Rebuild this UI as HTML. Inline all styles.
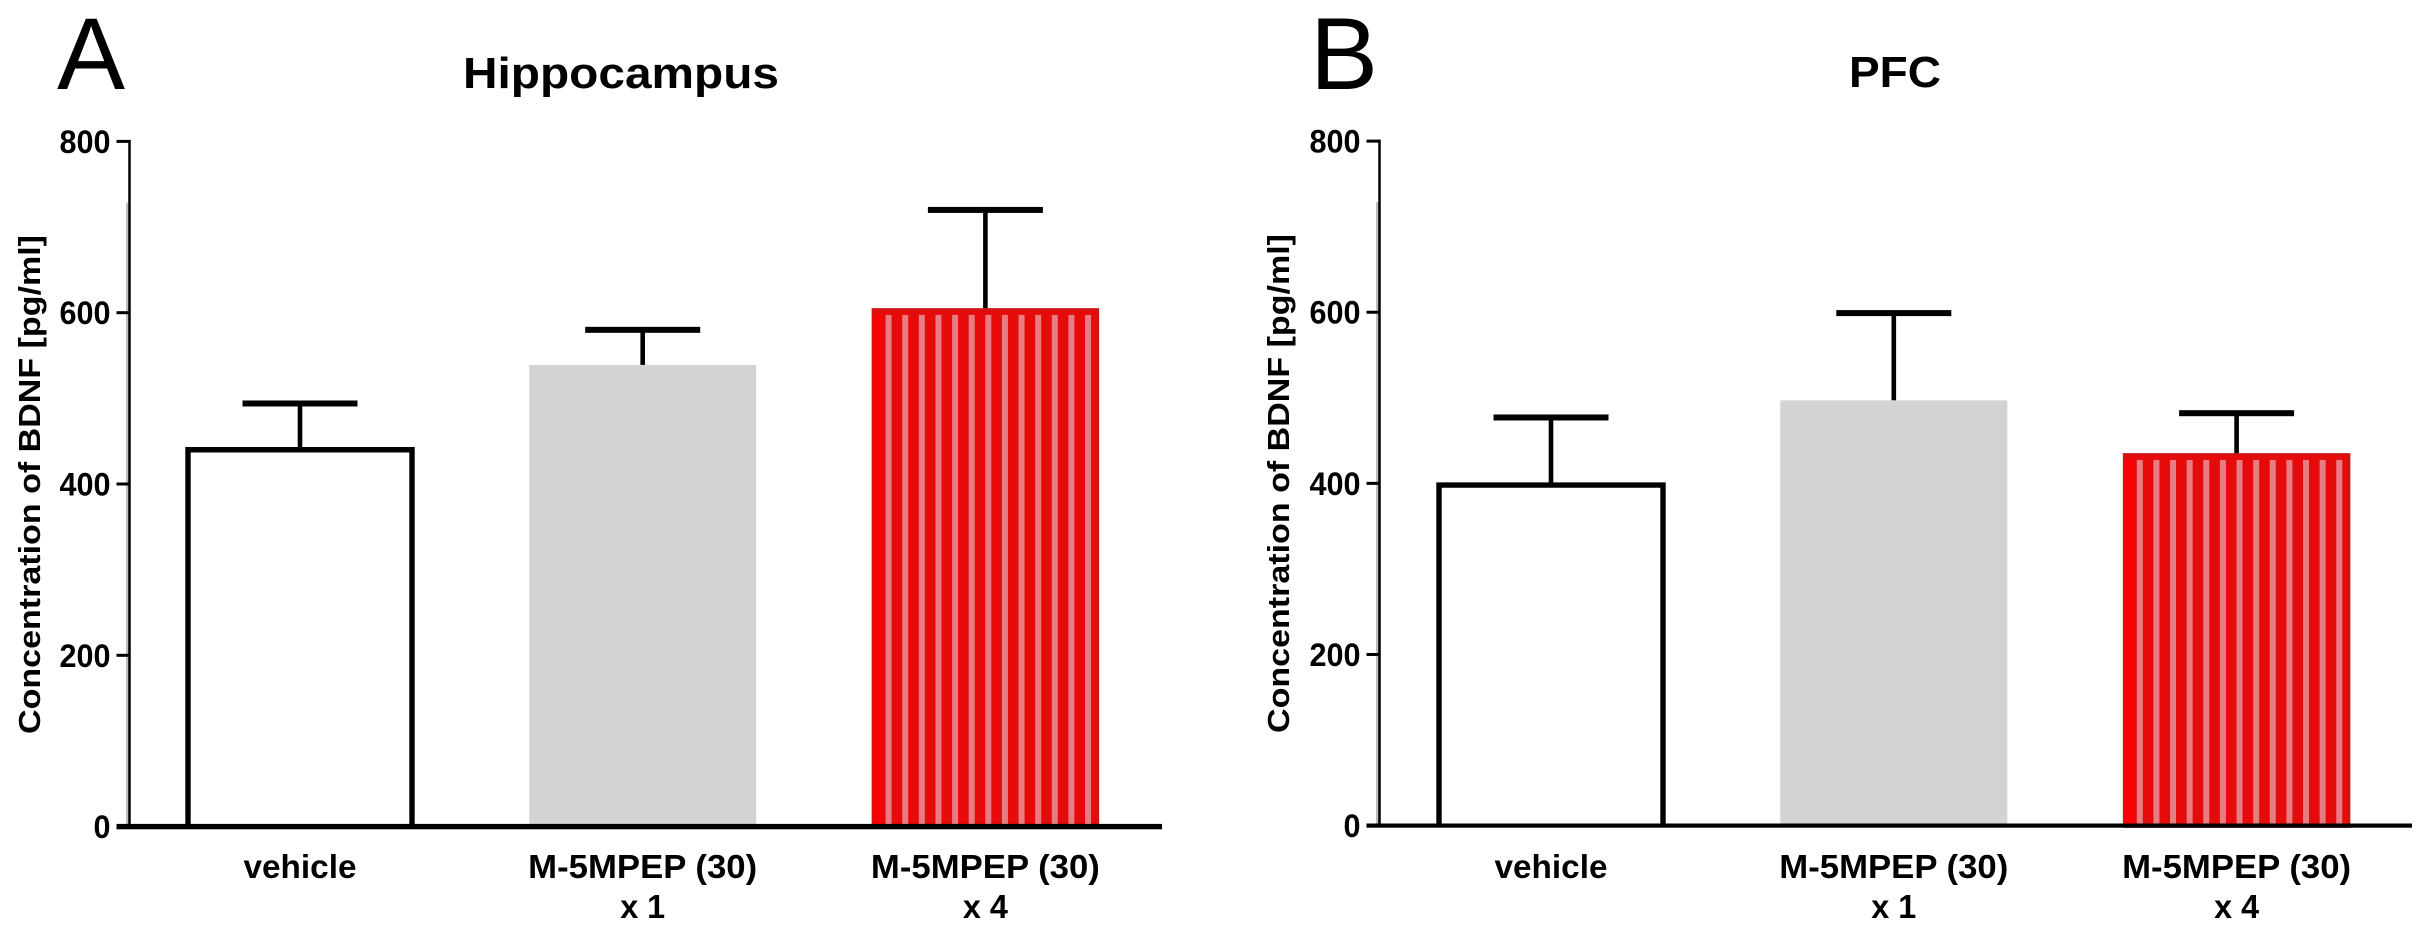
<!DOCTYPE html>
<html lang="en">
<head>
<meta charset="utf-8">
<title>BDNF concentration in hippocampus and PFC</title>
<style>
html,body{margin:0;padding:0;background:#fff;}
svg{display:block;}
text{font-family:"Liberation Sans",Arial,sans-serif;fill:#000;}
.b{font-weight:bold;}
</style>
</head>
<body>
<svg id="figure" xmlns="http://www.w3.org/2000/svg" width="2420" height="933" viewBox="0 0 2420 933">
  <rect x="0" y="0" width="2420" height="933" fill="#ffffff"/>
  <text x="57" y="89" font-size="102">A</text>
  <text x="1310" y="89" font-size="102">B</text>
  <text class="b" x="463" y="88" font-size="44" textLength="316" lengthAdjust="spacingAndGlyphs">Hippocampus</text>
  <text class="b" x="1849" y="87" font-size="44" textLength="92" lengthAdjust="spacingAndGlyphs">PFC</text>
  <text class="b" transform="translate(40,734) rotate(-90)" x="0" y="0" font-size="31" textLength="499" lengthAdjust="spacingAndGlyphs">Concentration of BDNF [pg/ml]</text>
  <text class="b" transform="translate(1289,733) rotate(-90)" x="0" y="0" font-size="31" textLength="499" lengthAdjust="spacingAndGlyphs">Concentration of BDNF [pg/ml]</text>
  <g id="panel-a"></g>
  <g id="panel-b"></g>
</svg>
<script>
var yTicks = [0, 200, 400, 600, 800];
var categoryLine1 = ['vehicle', 'M-5MPEP (30)', 'M-5MPEP (30)'];
var categoryLine2 = ['', 'x 1', 'x 4'];
var hippocampusMeans = [440, 539, 605];
var hippocampusUpper = [494, 580, 720];
var pfcMeans = [398, 497, 435];
var pfcUpper = [477, 599, 482];

var NS = 'http://www.w3.org/2000/svg';

function make(parent, tag, attrs) {
  var el = document.createElementNS(NS, tag);
  for (var k in attrs) { el.setAttribute(k, attrs[k]); }
  parent.appendChild(el);
  return el;
}

function drawPanel(root, cfg, means, upper) {
  function yScale(v) { return cfg.y0 - v * cfg.pxPerUnit; }
  function xScale(i) { return cfg.firstCenter + i * cfg.step; }
  var topY = yScale(yTicks[yTicks.length - 1]);

  var shade = make(root, 'rect', {x: cfg.axisX - 3.5, y: yScale(yTicks[3]) - 110, width: 2.5, height: cfg.y0 - yScale(yTicks[3]) + 110, fill: '#bdbdbd'});
  
  

  var axis = make(root, 'rect', {x: cfg.axisX - 1.25, y: topY - 1.5, width: 2.5, height: cfg.y0 - topY + 1.5, fill: '#000'});
  
  

  yTicks.forEach(function (t) {
    var y = yScale(t);
    var mark = make(root, 'rect', {x: cfg.axisX - 13, y: y - 1.5, width: 13, height: 3, fill: '#000'});
    
    
    var label = make(root, 'text', {x: cfg.axisX - 19, y: y + 11.5, 'text-anchor': 'end', 'font-size': 32, 'font-weight': 'bold', textLength: String(t).length * 17, lengthAdjust: 'spacingAndGlyphs'});
    
    
    label.textContent = String(t);
  });

  means.forEach(function (m, i) {
    var cx = xScale(i);
    var top = yScale(m);
    var capY = yScale(upper[i]);
    var w = i === 0 ? cfg.barWidth - 3 : cfg.barWidth;
    var left = cx - w / 2;

    var stem = make(root, 'rect', {x: cx - 2.3, y: capY, width: 4.6, height: top - capY, fill: '#000'});
    
    
    var cap = make(root, 'rect', {x: cx - 57.5, y: capY - 3, width: 115, height: 6, fill: '#000'});
    
    

    if (i === 0) {
      var outline = make(root, 'path', {d: 'M' + left + ' ' + cfg.y0 + 'V' + top + 'H' + (left + w) + 'V' + cfg.y0, fill: '#fff', stroke: '#000', 'stroke-width': 5.4});
      
      
    } else if (i === 1) {
      var gray = make(root, 'rect', {x: left, y: top, width: w, height: cfg.y0 - top, fill: '#d3d3d3'});
      
      
    } else {
      var red = make(root, 'rect', {x: left, y: top, width: w, height: cfg.y0 - top, fill: '#e60b0b'});
      
      
      var edge = make(root, 'rect', {x: left + 1, y: top + 1, width: w - 2, height: cfg.y0 - top, fill: 'none', stroke: '#cf1414', 'stroke-width': 2.5});
      
      
      var bright = make(root, 'rect', {x: left + 1, y: top + 7, width: 9, height: cfg.y0 - top - 7, fill: '#fb0000'});
      
      
      for (var s = 0; s < 13; s++) {
        var stripe = make(root, 'rect', {x: left + 13.7 + s * 16.62, y: top + 6.5, width: 6, height: cfg.y0 - top - 6.5, fill: '#e97b83'});
        
        
      }
    }

    var line1 = make(root, 'text', {x: cx, y: 878, 'text-anchor': 'middle', 'font-size': 33, 'font-weight': 'bold', textLength: i === 0 ? 113 : 229, lengthAdjust: 'spacingAndGlyphs'});
    
    
    line1.textContent = categoryLine1[i];
    if (categoryLine2[i]) {
      var line2 = make(root, 'text', {x: cx, y: 918, 'text-anchor': 'middle', 'font-size': 33, 'font-weight': 'bold', textLength: 45, lengthAdjust: 'spacingAndGlyphs'});
      
      
      line2.textContent = categoryLine2[i];
    }
  });

  var base = make(root, 'rect', {x: cfg.axisX - 13, y: cfg.y0 - cfg.baseThick / 2, width: cfg.axisEnd - cfg.axisX + 13, height: cfg.baseThick, fill: '#000'});
  
  
}

drawPanel(document.getElementById('panel-a'),
  {axisX: 129.5, y0: 826.6, pxPerUnit: 0.8565, firstCenter: 300, step: 342.7, barWidth: 227, axisEnd: 1162, baseThick: 5.4},
  hippocampusMeans, hippocampusUpper);
drawPanel(document.getElementById('panel-b'),
  {axisX: 1379.5, y0: 825.6, pxPerUnit: 0.8556, firstCenter: 1551, step: 342.8, barWidth: 227, axisEnd: 2412, baseThick: 4.2},
  pfcMeans, pfcUpper);
</script>
</body>
</html>
